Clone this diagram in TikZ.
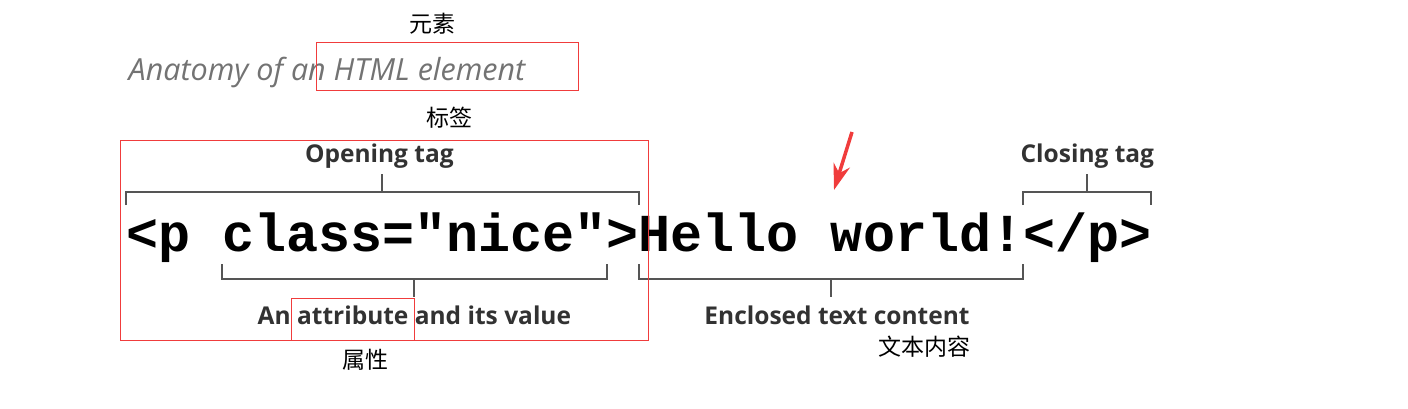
\documentclass[tikz,border=0pt]{standalone}
\usepackage{fontspec}
\newfontfamily\codefont{Liberation Mono}
\newfontfamily\labelfont{Open Sans}
\newfontfamily\cjkfont{Noto Sans CJK SC}
\usetikzlibrary{positioning,calc,arrows.meta}
\definecolor{annot}{RGB}{240,60,60}
\definecolor{brack}{RGB}{85,85,85}
\definecolor{lbl}{RGB}{50,50,50}
\definecolor{titlegray}{RGB}{115,115,115}
\tikzset{
code/.style={inner sep=0pt, outer sep=0pt, text height=46pt, text depth=13pt,
  font=\codefont\bfseries\fontsize{53.4}{60}\selectfont},
bracket/.style={draw=brack, line width=2pt},
tag label/.style={inner sep=0pt, text=lbl, font=\labelfont\bfseries\fontsize{24.5}{28}\selectfont},
note/.style={inner sep=0pt, font=\cjkfont\fontsize{23}{26}\selectfont},
redbox/.style={draw=annot, line width=1pt},
}

\begin{document}
\begin{tikzpicture}
    [x=1pt, y=-1pt,
    redarrow/.style={draw=annot, line width=3.5pt, -{Stealth[length=26pt,width=17pt]}}
    ]
    \useasboundingbox (0,0) rectangle (1408,409);

    \node [inner sep=0pt, text=titlegray, font=\labelfont\itshape\fontsize{30.5}{34}\selectfont] (title) at (327,73) {Anatomy of an HTML element};

    % the element, piece by piece
    \node [code, anchor=base west] (ltp) at (126,251) {<p\phantom{x}};
    \node [code, base right=0pt of ltp] (attr) {class="nice"};
    \node [code, base right=0pt of attr] (gt) {>};
    \node [code, base right=0pt of gt] (content) {Hello world!};
    \node [code, base right=0pt of content] (closing) {</p>};

    % opening tag
    \draw [bracket] (ltp.north west) -- ++(0,-13) -| (gt.north east);
    \coordinate (openmid) at ($(ltp.north west)!0.5!(gt.north east) + (0,-13)$);
    \draw [bracket] (openmid) -- ++(0,-18) coordinate (opentop);
    \node [tag label, above=5pt of opentop, xshift=-3pt] (openlbl) {Opening tag};

    % closing tag
    \draw [bracket] (closing.north west) -- ++(0,-13) -| (closing.north east);
    \coordinate (closemid) at ($(closing.north west)!0.5!(closing.north east) + (0,-13)$);
    \draw [bracket] (closemid) -- ++(0,-18) coordinate (closetop);
    \node [tag label, above=5pt of closetop] (closelbl) {Closing tag};

    % attribute
    \draw [bracket] (attr.south west) -- ++(0,15) -| (attr.south east);
    \coordinate (attrmid) at ($(attr.south west)!0.5!(attr.south east) + (0,15)$);
    \draw [bracket] (attrmid) -- ++(0,18) coordinate (attrbot);
    \node [tag label, below=9pt of attrbot] (attrlbl) {An attribute and its value};

    % content
    \draw [bracket] (content.south west) -- ++(0,15) -| (content.south east);
    \coordinate (contmid) at ($(content.south west)!0.5!(content.south east) + (0,15)$);
    \draw [bracket] (contmid) -- ++(0,18) coordinate (contbot);
    \node [tag label, below=9pt of contbot, xshift=6pt] (contlbl) {Enclosed text content};

    % red notes
    \draw [redbox] (316,43) rectangle (578,91);
    \draw [redbox] (120,141) rectangle (648,340);
    \draw [redbox] (291,298) rectangle (414,340);
    \node [note] (elemnote) at (432,24) {元素};
    \node [note] (tagnote) at (449,118) {标签};
    \node [note] (attrnote) at (365,360) {属性};
    \node [note] (contnote) at (924,347) {文本内容};

    \coordinate (arrtail) at (852,132);
    \coordinate (arrtip) at (834,190);
    \draw [redarrow] (arrtail) -- (arrtip);

\end{tikzpicture}
\end{document}
